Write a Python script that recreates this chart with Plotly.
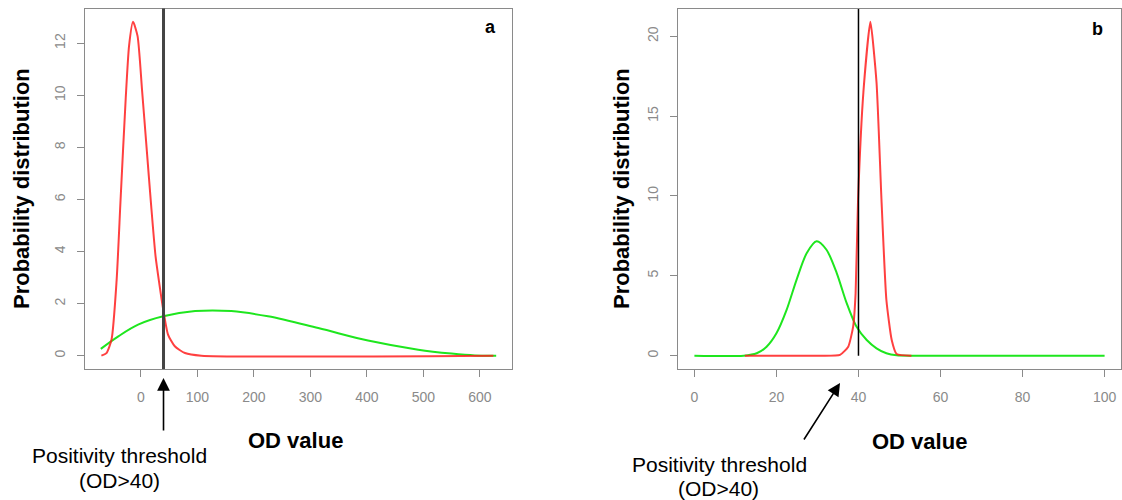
import plotly.graph_objects as go

# ---------------- data ----------------
threshold = 40

# panel a
a_red_x = [-70, -61, -52, -43, -36, -27, -21, -14, -6, 2, 10, 18, 26, 33, 39.5, 48, 60, 78, 107, 624]
a_red_y = [0, 0.1, 0.62, 2.9, 6.0, 9.85, 11.9, 12.82, 12.28, 10.2, 8.0, 5.8, 3.8, 2.7, 1.77, 0.81, 0.36, 0.1, 0, 0]
a_green_x = [-71, -40, -5, 39.5, 96, 160, 225, 314, 402, 491, 550, 591, 629]
a_green_y = [0.26, 0.74, 1.19, 1.51, 1.71, 1.71, 1.51, 1.06, 0.58, 0.23, 0.08, 0.01, 0]
a_yticks = [0, 2, 4, 6, 8, 10, 12]
a_xticks = [0, 100, 200, 300, 400, 500, 600]

# panel b
b_red_x = [12.3, 30, 35.5, 37.5, 38.7, 39.3, 39.9, 41.2, 42.9, 44.4, 45.6, 46.8, 48.1, 49.3, 52.9]
b_red_y = [0, 0, 0.05, 0.56, 1.82, 3.9, 9.8, 16.5, 20.9, 17.1, 9.8, 3.5, 0.98, 0.1, 0]
b_green_x = [0, 12, 15.2, 17.6, 20, 22.5, 24.9, 27.4, 29.8, 32.2, 34.7, 37.1, 39.5, 42, 44.4, 46.8, 49.3, 55, 100]
b_green_y = [0, 0, 0.15, 0.56, 1.4, 2.88, 4.75, 6.43, 7.16, 6.63, 5.17, 3.3, 1.82, 0.98, 0.46, 0.15, 0.02, 0, 0]
b_yticks = [0, 5, 10, 15, 20]
b_xticks = [0, 20, 40, 60, 80, 100]

RED = "rgba(255,30,30,0.85)"
GREEN = "rgb(30,230,30)"
GREY = "#8a8a8a"
W, H = 1122, 500


def pad_range(vals):
    mn, mx = min(vals), max(vals)
    d = (mx - mn) * 0.04
    return [mn - d, mx + d]


a_xr = pad_range(a_red_x + a_green_x)
a_yr = pad_range(a_red_y + a_green_y)
b_xr = pad_range(b_red_x + b_green_x)
b_yr = pad_range(b_red_y + b_green_y)

fig = go.Figure()

sp = dict(mode="lines", line_shape="spline", hoverinfo="skip", showlegend=False)
fig.add_trace(go.Scatter(x=a_green_x, y=a_green_y, xaxis="x", yaxis="y",
                         line=dict(color=GREEN, width=2, smoothing=1.0), **sp))
fig.add_trace(go.Scatter(x=a_red_x, y=a_red_y, xaxis="x", yaxis="y",
                         line=dict(color=RED, width=2, smoothing=0.6), **sp))
fig.add_trace(go.Scatter(x=b_green_x, y=b_green_y, xaxis="x2", yaxis="y2",
                         line=dict(color=GREEN, width=2, smoothing=0.8), **sp))
fig.add_trace(go.Scatter(x=b_red_x, y=b_red_y, xaxis="x2", yaxis="y2",
                         line=dict(color=RED, width=2, smoothing=0.5), **sp))

# threshold lines
fig.add_shape(type="line", xref="x", yref="y domain", x0=threshold, x1=threshold,
              y0=0, y1=1, line=dict(color="#444444", width=3))
fig.add_trace(go.Scatter(x=[threshold, threshold], y=[0, b_yr[1]], xaxis="x2", yaxis="y2",
                         mode="lines", line=dict(color="black", width=1.5),
                         hoverinfo="skip", showlegend=False))

ax_common = dict(showgrid=False, zeroline=False, showline=True, mirror=True,
                 linecolor=GREY, linewidth=1.3, ticks="outside", ticklen=7,
                 tickcolor=GREY, tickwidth=1.2,
                 tickfont=dict(family="Liberation Sans, Arial", size=14, color=GREY))

ydom = [1 - 369 / H, 1 - 8.5 / H]
fig.update_layout(
    width=W, height=H, margin=dict(l=0, r=0, t=0, b=0),
    paper_bgcolor="white", plot_bgcolor="white",
    xaxis=dict(domain=[85 / W, 512 / W], range=a_xr, tickvals=a_xticks, anchor="y",
               ticklabelstandoff=8, **ax_common),
    yaxis=dict(domain=ydom, range=a_yr, tickvals=a_yticks, anchor="x", tickangle=-90,
               ticklabelstandoff=6, **ax_common),
    xaxis2=dict(domain=[678 / W, 1121 / W], range=b_xr, tickvals=b_xticks, anchor="y2",
                ticklabelstandoff=8, **ax_common),
    yaxis2=dict(domain=ydom, range=b_yr, tickvals=b_yticks, anchor="x2", tickangle=-90,
                ticklabelstandoff=6, **ax_common),
)

TXT = dict(family="Liberation Sans, Arial", color="black")


def ann(text, xp, yp, size, bold=False, angle=0):
    fig.add_annotation(text=f"<b>{text}</b>" if bold else text,
                       x=xp / W, y=1 - yp / H, xref="paper", yref="paper",
                       xanchor="center", yanchor="middle", showarrow=False,
                       textangle=angle, font=dict(size=size, **TXT))


# axis titles
ann("Probability distribution", 21, 189, 22, bold=True, angle=-90)
ann("Probability distribution", 621, 189, 22, bold=True, angle=-90)
ann("OD value", 295, 440, 22, bold=True)
ann("OD value", 919, 441, 22, bold=True)
# panel letters
ann("a", 490, 27, 18, bold=True)
ann("b", 1097, 29, 18, bold=True)
# threshold notes
ann("Positivity threshold", 119, 455, 21)
ann("(OD&gt;40)", 119, 480, 21)
ann("Positivity threshold", 719, 464, 21)
ann("(OD&gt;40)", 718, 488, 21)

# arrows
fig.add_annotation(x=threshold, y=1 - 378 / H, xref="x", yref="paper", text="",
                   showarrow=True, ax=0, ay=432 - 378, axref="pixel", ayref="pixel",
                   arrowhead=2, arrowsize=1.6, arrowwidth=1.6, arrowcolor="black")
fig.add_annotation(x=35.5, y=1 - 383 / H, xref="x2", yref="paper", text="",
                   showarrow=True, ax=803 - 840, ay=441 - 383, axref="pixel", ayref="pixel",
                   arrowhead=2, arrowsize=1.6, arrowwidth=1.6, arrowcolor="black")

fig.write_html("out.html", config={"displayModeBar": False},
               post_script="document.body.style.margin='0';document.body.style.overflow='hidden';")
